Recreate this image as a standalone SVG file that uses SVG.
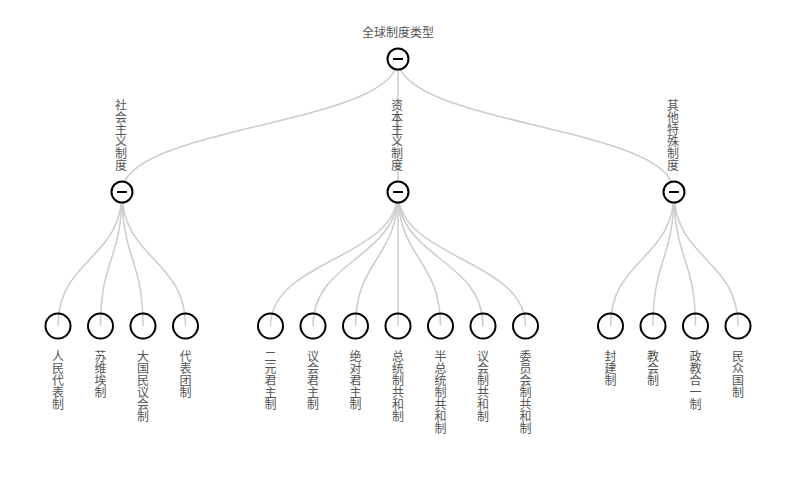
<svg xmlns="http://www.w3.org/2000/svg" width="796" height="496" viewBox="0 0 796 496">
<style>
.e{fill:none;stroke:#ccc;stroke-width:1.5}
.n{fill:#fff;stroke:#000;stroke-width:2}
.l{fill:none;stroke:#000;stroke-width:2}
.m{stroke:#000;stroke-width:2}
.t{font-family:"Noto Sans CJK SC","Noto Sans",sans-serif;font-size:12px;fill:#555;text-anchor:middle}
.v{font-family:"Noto Sans CJK SC","Noto Sans",sans-serif;font-size:12px;fill:#555;writing-mode:vertical-rl;text-orientation:upright;text-anchor:start}
</style>
<rect width="796" height="496" fill="#fff"/>
<g id="edges">
<path class="e" d="M398 59C398 125.5 122 125.5 122 192"/>
<path class="e" d="M398 59L398 192"/>
<path class="e" d="M398 59C398 125.5 674 125.5 674 192"/>
<path class="e" d="M122 192C122 259 58 259 58 326"/>
<path class="e" d="M122 192C122 259 100.5 259 100.5 326"/>
<path class="e" d="M122 192C122 259 143 259 143 326"/>
<path class="e" d="M122 192C122 259 185.5 259 185.5 326"/>
<path class="e" d="M398 192C398 259 270.5 259 270.5 326"/>
<path class="e" d="M398 192C398 259 313 259 313 326"/>
<path class="e" d="M398 192C398 259 355.5 259 355.5 326"/>
<path class="e" d="M398 192L398 326"/>
<path class="e" d="M398 192C398 259 440.5 259 440.5 326"/>
<path class="e" d="M398 192C398 259 483 259 483 326"/>
<path class="e" d="M398 192C398 259 525.5 259 525.5 326"/>
<path class="e" d="M674 192C674 259 610.5 259 610.5 326"/>
<path class="e" d="M674 192C674 259 653 259 653 326"/>
<path class="e" d="M674 192C674 259 695.5 259 695.5 326"/>
<path class="e" d="M674 192C674 259 738 259 738 326"/>
</g>
<g id="root">
<circle class="n" cx="398" cy="59" r="10.5"/>
<line class="m" x1="393" y1="59" x2="403" y2="59"/>
<text class="t" x="398" y="36.6">全球制度类型</text>
</g>
<g id="socialism">
<circle class="n" cx="122" cy="192" r="10.5"/>
<line class="m" x1="117" y1="192" x2="127" y2="192"/>
<text class="v" x="121" y="99">社会主义制度</text>
</g>
<g id="capitalism">
<circle class="n" cx="398" cy="192" r="10.5"/>
<line class="m" x1="393" y1="192" x2="403" y2="192"/>
<text class="v" x="397" y="99">资本主义制度</text>
</g>
<g id="other">
<circle class="n" cx="674" cy="192" r="10.5"/>
<line class="m" x1="669" y1="192" x2="679" y2="192"/>
<text class="v" x="673" y="99">其他特殊制度</text>
</g>
<g id="leaf1"><circle class="l" cx="58" cy="326" r="12.5"/><text class="v" x="58" y="350">人民代表制</text></g>
<g id="leaf2"><circle class="l" cx="100.5" cy="326" r="12.5"/><text class="v" x="100.5" y="350">苏维埃制</text></g>
<g id="leaf3"><circle class="l" cx="143" cy="326" r="12.5"/><text class="v" x="143" y="350">大国民议会制</text></g>
<g id="leaf4"><circle class="l" cx="185.5" cy="326" r="12.5"/><text class="v" x="185.5" y="350">代表团制</text></g>
<g id="leaf5"><circle class="l" cx="270.5" cy="326" r="12.5"/><text class="v" x="270.5" y="350">二元君主制</text></g>
<g id="leaf6"><circle class="l" cx="313" cy="326" r="12.5"/><text class="v" x="313" y="350">议会君主制</text></g>
<g id="leaf7"><circle class="l" cx="355.5" cy="326" r="12.5"/><text class="v" x="355.5" y="350">绝对君主制</text></g>
<g id="leaf8"><circle class="l" cx="398" cy="326" r="12.5"/><text class="v" x="398" y="350">总统制共和制</text></g>
<g id="leaf9"><circle class="l" cx="440.5" cy="326" r="12.5"/><text class="v" x="440.5" y="350">半总统制共和制</text></g>
<g id="leaf10"><circle class="l" cx="483" cy="326" r="12.5"/><text class="v" x="483" y="350">议会制共和制</text></g>
<g id="leaf11"><circle class="l" cx="525.5" cy="326" r="12.5"/><text class="v" x="525.5" y="350">委员会制共和制</text></g>
<g id="leaf12"><circle class="l" cx="610.5" cy="326" r="12.5"/><text class="v" x="610.5" y="350">封建制</text></g>
<g id="leaf13"><circle class="l" cx="653" cy="326" r="12.5"/><text class="v" x="653" y="350">教会制</text></g>
<g id="leaf14"><circle class="l" cx="695.5" cy="326" r="12.5"/><text class="v" x="695.5" y="350">政教合一制</text></g>
<g id="leaf15"><circle class="l" cx="738" cy="326" r="12.5"/><text class="v" x="738" y="350">民众国制</text></g>
</svg>
